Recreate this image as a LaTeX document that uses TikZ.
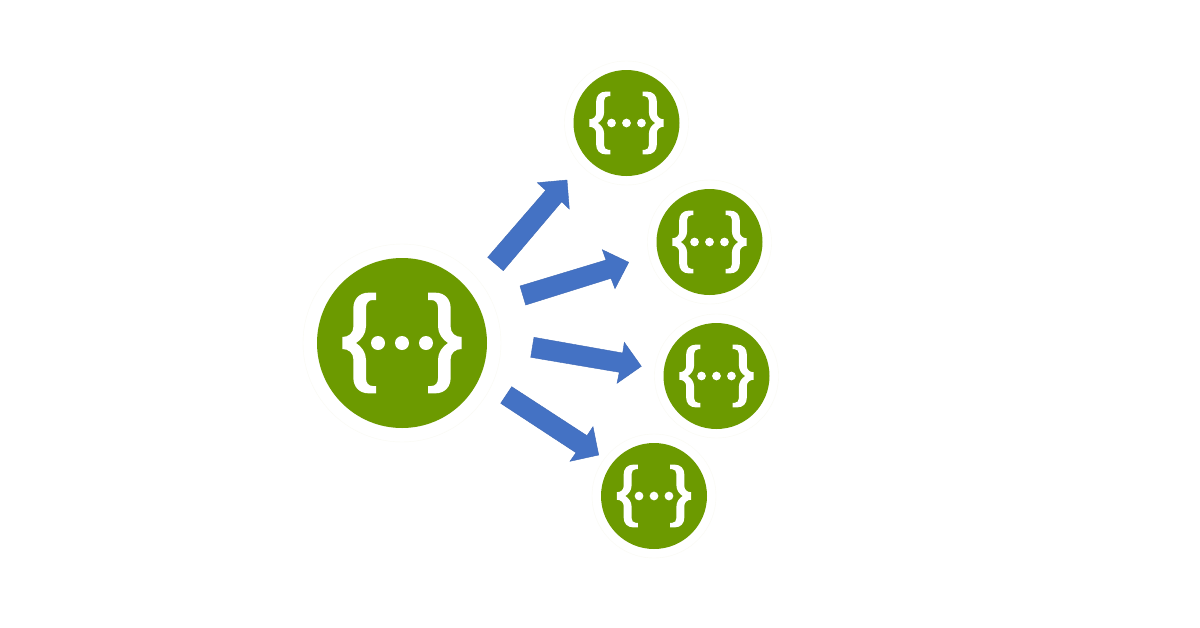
\documentclass[tikz,border=0pt]{standalone}
\definecolor{swgreen}{HTML}{6C9A00}
\definecolor{arrowblue}{HTML}{4472C4}
\definecolor{arrowedge}{HTML}{3F69B5}
\definecolor{halo}{HTML}{FAFAF3}
\tikzset{
  halocircle/.style={circle,draw=halo,line width=.4pt,fill=white,inner sep=0pt},
  bigbadge/.style={circle,fill=swgreen,inner sep=0pt,minimum size=170pt},
  smallbadge/.style={circle,fill=swgreen,inner sep=0pt,minimum size=106pt},
  blockarrow/.style={fill=arrowblue,draw=arrowedge,line width=.4pt,line join=miter},
  pics/swicon/.style={code={
    \fill[white]
      (-78,151) -- (-78,129) -- (-88,129)
      .. controls (-100,129) and (-108,120) .. (-108,106)
      -- (-108,50) .. controls (-108,28) and (-122,10) .. (-138,0)
      .. controls (-122,-10) and (-108,-28) .. (-108,-50)
      -- (-108,-106) .. controls (-108,-120) and (-100,-129) .. (-88,-129)
      -- (-78,-129) -- (-78,-151) -- (-100,-151)
      .. controls (-128,-151) and (-146,-132) .. (-146,-104)
      -- (-146,-48) .. controls (-146,-30) and (-160,-18) .. (-179,-18)
      -- (-179,18) .. controls (-160,18) and (-146,30) .. (-146,48)
      -- (-146,104) .. controls (-146,132) and (-128,151) .. (-100,151) -- cycle;
    \fill[white]
      (78,151) -- (78,129) -- (88,129)
      .. controls (100,129) and (108,120) .. (108,106)
      -- (108,50) .. controls (108,28) and (122,10) .. (138,0)
      .. controls (122,-10) and (108,-28) .. (108,-50)
      -- (108,-106) .. controls (108,-120) and (100,-129) .. (88,-129)
      -- (78,-129) -- (78,-151) -- (100,-151)
      .. controls (128,-151) and (146,-132) .. (146,-104)
      -- (146,-48) .. controls (146,-30) and (160,-18) .. (179,-18)
      -- (179,18) .. controls (160,18) and (146,30) .. (146,48)
      -- (146,104) .. controls (146,132) and (128,151) .. (100,151) -- cycle;
    \fill[white] (-72,0) circle (21) (0,0) circle (21) (72,0) circle (21);
  }}
}
\begin{document}
\begin{tikzpicture}[x=1pt,y=-1pt]
\useasboundingbox (0,0) rectangle (1200,627);
\fill[white] (0,0) rectangle (1200,627);
% halos
\node[halocircle,minimum size=198pt] (hsrc) at (402,343) {};
\node[halocircle,minimum size=124pt] (ha) at (626.5,123) {};
\node[halocircle,minimum size=124pt] (hb) at (709.5,242) {};
\node[halocircle,minimum size=124pt] (hc) at (716.5,376) {};
\node[halocircle,minimum size=124pt] (hd) at (654,496) {};
% badges
\node[bigbadge] (src) at (402,343) {};
\node[smallbadge] (a) at (626.5,123) {};
\node[smallbadge] (b) at (709.5,242) {};
\node[smallbadge] (c) at (716.5,376) {};
\node[smallbadge] (d) at (654,496) {};
% icons
\pic[scale=.3333] at (src) {swicon};
\pic[scale=.2078] at (a) {swicon};
\pic[scale=.2078] at (b) {swicon};
\pic[scale=.2078] at (c) {swicon};
\pic[scale=.2078] at (d) {swicon};
% block arrows
\draw[blockarrow] (487.7,257.3) -- (503.3,270.7) -- (561.7,201.7) -- (569.3,209) -- (567,180) -- (537.3,182.7) -- (545.7,190.3) -- cycle;
\draw[blockarrow] (520,286) -- (525.7,305) -- (611,278.3) -- (615,288.7) -- (628.7,262.3) -- (602.3,249.7) -- (606,260) -- cycle;
\draw[blockarrow] (534,337.3) -- (530.7,357.3) -- (619.3,372.3) -- (617,383.3) -- (641.3,366.3) -- (624.3,342.3) -- (622.7,353) -- cycle;
\draw[blockarrow] (511.7,386.7) -- (500.7,403.3) -- (576,452.7) -- (570,461.3) -- (598.7,455) -- (593,426.7) -- (587,435.7) -- cycle;
\end{tikzpicture}
\end{document}
